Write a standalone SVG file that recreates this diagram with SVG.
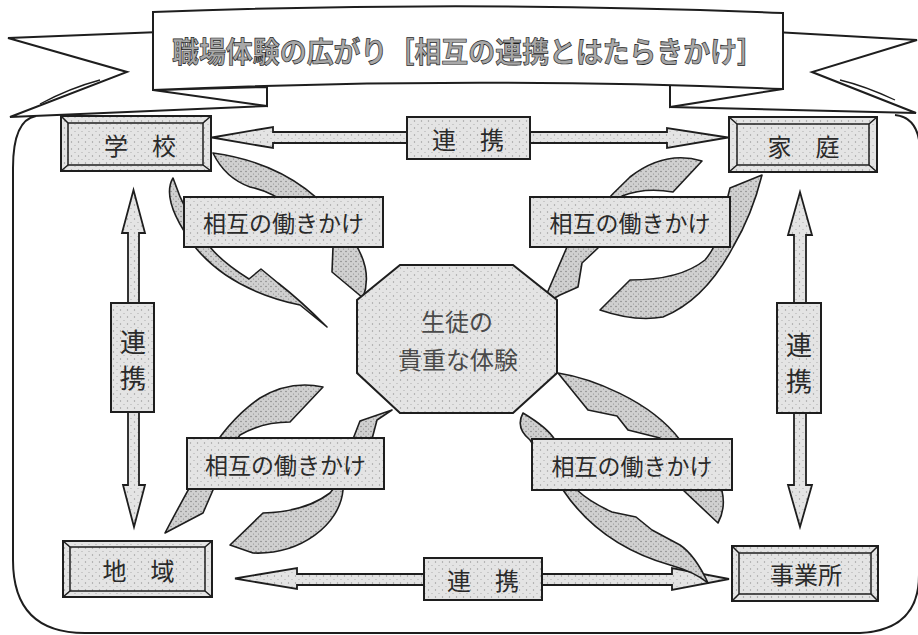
<svg xmlns="http://www.w3.org/2000/svg" width="918" height="635" viewBox="0 0 918 635">
<defs>
<pattern id="pb" width="7" height="7" patternUnits="userSpaceOnUse">
<rect width="7" height="7" fill="#e4e4e4"/>
<circle cx="1.5" cy="2" r="0.7" fill="#9a9a9a"/>
<circle cx="5" cy="5.5" r="0.6" fill="#a8a8a8"/>
</pattern>
<pattern id="ps" width="5" height="5" patternUnits="userSpaceOnUse">
<rect width="5" height="5" fill="#d0d0d0"/>
<circle cx="1" cy="1.5" r="0.7" fill="#777"/>
<circle cx="3.5" cy="4" r="0.6" fill="#888"/>
</pattern>
</defs>
<style>
.box{fill:url(#pb);stroke:#1e1e1e;stroke-width:2}
.inner{fill:none;stroke:#1e1e1e;stroke-width:1.5}
.sw{fill:url(#ps);stroke:#1e1e1e;stroke-width:1.6;stroke-linejoin:round}
.ar{fill:url(#pb);stroke:#1e1e1e;stroke-width:1.8;stroke-linejoin:miter}
.t{font-family:"Noto Sans CJK JP","Noto Sans CJK SC",sans-serif;fill:#2a2a2a;text-anchor:middle;dominant-baseline:central}
.ln{fill:none;stroke:#1e1e1e;stroke-width:2}
.bn{fill:#fff;stroke:#1e1e1e;stroke-width:2;stroke-linejoin:miter}
</style>
<rect width="918" height="635" fill="#fff"/>
<g id="frame">
<path class="ln" d="M36,116 Q13,120 13,168 L13,560 Q13,633 85,633 L860,633 Q919,630 919,575 L919,140 Q915,117 895,115"/>
</g>
<g id="banner">
<path class="bn" d="M8,38 L160,32 L267,80 L267,106 L10,117 L127,72 Z"/>
<path class="bn" d="M917,40 L775,32 L670,80 L670,107 L916,113 L812,72 Z"/>
<path class="ln" style="stroke-width:1.3" d="M100,80 Q70,88 40,104"/>
<path class="ln" style="stroke-width:1.3" d="M840,80 Q865,86 895,100"/>
<path class="bn" d="M153,90 L267,87 L267,106 Z"/>
<path class="bn" d="M783,89 L670,80 L670,107 Z"/>
<path class="bn" d="M153,12 Q468,0 783,13 L783,89 Q468,76 153,90 Z"/>
<text class="t" x="468" y="50" font-size="29" font-weight="bold" textLength="592" lengthAdjust="spacingAndGlyphs" style="fill:#a8a8a8;stroke:#1e1e1e;stroke-width:0.7">職場体験の広がり［相互の連携とはたらきかけ］</text>
</g>
<g id="connectors">
<polygon class="ar" points="407,132 273,132 273,127 212,137.5 273,148 273,143 407,143"/>
<polygon class="ar" points="530,132 667,132 667,128 728,137.5 667,148 667,143 530,143"/>
<polygon class="ar" points="128,303 128,233 122,233 133.5,190 145,233 139,233 139,303"/>
<polygon class="ar" points="128,412 128,485 123,485 134,527 145,485 139,485 139,412"/>
<polygon class="ar" points="794,303 794,235 788,235 800,192 812,235 806,235 806,303"/>
<polygon class="ar" points="794,413 794,485 788,485 800,527 812,485 806,485 806,413"/>
<polygon class="ar" points="424,574 297,574 297,568 235,578.5 297,589 297,585 424,585"/>
<polygon class="ar" points="542,574 672,574 672,568 729,579 672,590 672,585 542,585"/>
</g>
<g id="swooshes">
<path class="sw" d="M213,153 Q300,165 345,230 Q375,265 363,298 L332,272 L333,247 Q290,195 250,187 Q225,178 213,153 Z"/>
<path class="sw" d="M173,178 Q160,200 195,247 Q230,290 300,305 L327,327 Q300,300 278,283 L261,269 L249,279 Q222,262 210,247 Q185,215 173,178 Z"/>
<path class="sw" d="M702,161 Q665,150 630,177 Q595,210 567,247 Q555,275 542,305 L560,295 L578,287 L582,263 L598,248 Q610,222 622,196 Q645,187 673,192 Z"/>
<path class="sw" d="M762,175 Q752,215 733,247 Q705,300 663,317 Q635,322 600,310 L630,280 Q680,280 705,260 Q722,240 727,200 L730,188 Z"/>
<path class="sw" d="M323,387 Q290,380 260,398 Q228,420 205,460 Q185,495 165,533 L203,513 L213,490 Q220,460 240,435 Q262,422 290,422 Z"/>
<path class="sw" d="M392,410 L360,421 L353,439 L343,490 C340,525 300,555 253,553 L230,545 L263,513 Q305,512 330,493 L372,439 L377,420 Z"/>
<path class="sw" d="M558,373 C590,378 650,400 680,440 L722,491 Q726,508 718,523 L683,490 L660,438 L628,430 L617,416 L588,410 Z"/>
<path class="sw" d="M523,413 Q515,428 530,440 L563,490 Q600,545 670,565 Q695,572 708,583 Q695,555 680,545 L652,530 L636,517 L612,512 Q590,502 577,490 L555,440 Q548,428 523,413 Z"/>
</g>
<g id="label-tl"><rect class="box" x="184" y="197" width="199" height="50"/><text class="t" x="283.5" y="222" font-size="23">相互の働きかけ</text></g>
<g id="label-tr"><rect class="box" x="530" y="197" width="200" height="50"/><text class="t" x="630" y="222" font-size="23">相互の働きかけ</text></g>
<g id="label-bl"><rect class="box" x="187" y="438" width="197" height="51"/><text class="t" x="285.5" y="463.5" font-size="23">相互の働きかけ</text></g>
<g id="label-br"><rect class="box" x="532" y="439" width="200" height="51"/><text class="t" x="632" y="464.5" font-size="23">相互の働きかけ</text></g>
<g id="renkei-top"><rect class="box" x="407" y="117" width="123" height="42"/><text class="t" x="468" y="138" font-size="24">連　携</text></g>
<g id="renkei-bottom"><rect class="box" x="424" y="558" width="118" height="42"/><text class="t" x="483" y="579" font-size="24">連　携</text></g>
<g id="renkei-left"><rect class="box" x="111" y="303" width="43" height="109"/><text class="t" x="133" y="340" font-size="26">連</text><text class="t" x="133" y="376" font-size="26">携</text></g>
<g id="renkei-right"><rect class="box" x="777" y="303" width="44" height="110"/><text class="t" x="799" y="343" font-size="26">連</text><text class="t" x="799" y="379" font-size="26">携</text></g>
<g id="gakko">
<rect class="box" x="61" y="116" width="150" height="55"/>
<rect class="inner" x="68" y="123" width="135" height="42"/>
<path class="inner" d="M61,116 L68,123 M211,116 L203,123 M61,171 L68,165 M211,171 L203,165"/>
<text class="t" x="140" y="144" font-size="24">学　校</text>
</g>
<g id="katei">
<rect class="box" x="729" y="117" width="148" height="55"/>
<rect class="inner" x="737" y="124" width="132" height="41"/>
<path class="inner" d="M729,117 L737,124 M877,117 L869,124 M729,172 L737,165 M877,172 L869,165"/>
<text class="t" x="803.5" y="145" font-size="24">家　庭</text>
</g>
<g id="chiiki">
<rect class="box" x="63" y="541" width="149" height="56"/>
<rect class="inner" x="70" y="547" width="135" height="44"/>
<path class="inner" d="M63,541 L70,547 M212,541 L205,547 M63,597 L70,591 M212,597 L205,591"/>
<text class="t" x="138.5" y="569" font-size="24">地　域</text>
</g>
<g id="jigyosho">
<rect class="box" x="732" y="546" width="146" height="55"/>
<rect class="inner" x="739" y="553" width="132" height="41"/>
<path class="inner" d="M732,546 L739,553 M878,546 L871,553 M732,601 L739,594 M878,601 L871,594"/>
<text class="t" x="806" y="573" font-size="24">事業所</text>
</g>
<g id="center">
<polygon class="box" points="400,265 513,265 557,300 557,373 513,413 400,413 357,373 357,300"/>
<text class="t" x="457" y="320" font-size="24" style="fill:#4a4a4a">生徒の</text>
<text class="t" x="458" y="358" font-size="24" style="fill:#4a4a4a">貴重な体験</text>
</g>
</svg>
